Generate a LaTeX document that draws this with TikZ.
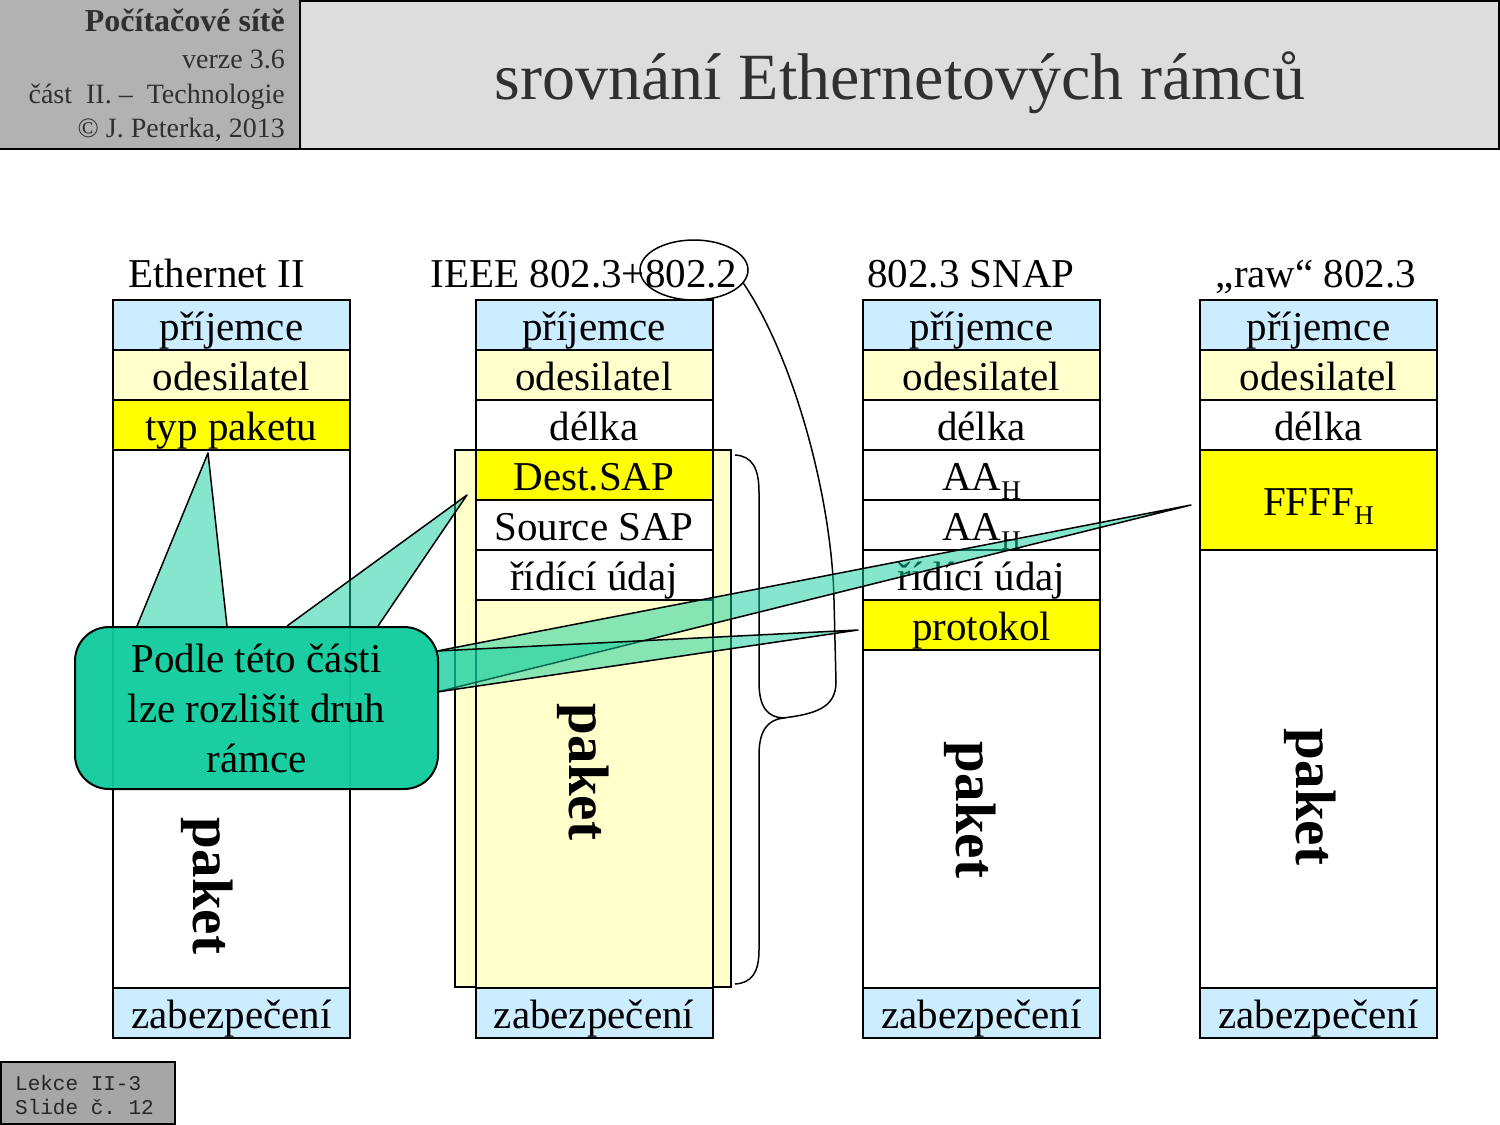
\documentclass[tikz,border=0pt]{standalone}
\usepackage{fontspec}
\setmainfont{Liberation Serif}
\newfontfamily\monofam{Liberation Mono}
\usetikzlibrary{shapes.geometric}
\definecolor{lblue}{HTML}{CCECFF}
\definecolor{lyellow}{HTML}{FFFFCC}
\definecolor{yel}{HTML}{FFFF00}
\definecolor{tealc}{HTML}{0ECC9C}
\definecolor{hdrdark}{HTML}{B2B2B2}
\definecolor{hdrlight}{HTML}{DDDDDD}
\definecolor{ftgray}{HTML}{A6A6A6}
\definecolor{txtgray}{HTML}{303030}
\newcommand\setfs[2]{\fontsize{#1}{#2}\selectfont}
\newcommand\subH{\raisebox{-9pt}{\setfs{27}{27}H}}
\frenchspacing
\begin{document}
\begin{tikzpicture}[x=1pt,y=-1pt,
  cell/.style={draw, line width=2pt, minimum width=237pt, minimum height=50pt,
    inner sep=0pt, outer sep=0pt, text height=36pt, text depth=6pt, font=\setfs{41}{48}},
  coltitle/.style={anchor=base, inner sep=0pt, font=\setfs{41}{48}},
  paketlbl/.style={rotate=-90, inner sep=0pt, font=\bfseries\setfs{57}{60}},
  hdrtxt/.style={anchor=base east, inner sep=0pt, text=txtgray, font=\setfs{28}{30}},
  foottxt/.style={anchor=base west, inner sep=0pt, text=black!85, font=\monofam\setfs{21}{22}},
  wedge/.style={draw=black, line width=1.5pt, fill=tealc, fill opacity=0.5, line join=round},
  thin/.style={line width=1.5pt}]
\useasboundingbox (0,0) rectangle (1500,1125);
\fill[white] (0,0) rectangle (1500,1125);

% header
\fill[hdrdark] (0,0) rectangle (300,150);
\draw[line width=2.5pt, fill=hdrlight] (300,1) rectangle (1499,149);
\draw[line width=2.5pt] (0,149) -- (300,149);
\node[hdrtxt, font=\bfseries\setfs{32}{34}] (h1) at (285,31) {Počítačové sítě};
\node[hdrtxt] (h2) at (285,68) {verze 3.6};
\node[hdrtxt] (h3) at (285,103) {část~~II.~–~~Technologie};
\node[hdrtxt] (h4) at (285,137) {© J. Peterka, 2013};
\node[anchor=base, inner sep=0pt, text=txtgray, font=\setfs{66}{70}] (title) at (900,99) {srovnání Ethernetových rámců};

% footer
\draw[line width=2pt, fill=ftgray] (1,1062) rectangle (175,1124);
\node[foottxt] (f1) at (15,1090) {Lekce II-3};
\node[foottxt] (f2) at (15,1114) {Slide č. 12};

% column titles
\node[coltitle] (t1) at (216.5,287) {Ethernet II};
\node[coltitle] (t2) at (584,287) {IEEE 802.3+802.2};
\node[coltitle] (t3) at (971,287) {802.3 SNAP};
\node[coltitle] (t4) at (1316,287) {„raw“ 802.3};

% column 1
\node[cell, fill=lblue] (a1) at (231.5,325) {příjemce};
\node[cell, fill=lyellow] (a2) at (231.5,375) {odesilatel};
\node[cell, fill=yel] (a3) at (231.5,425) {typ paketu};
\node[cell, fill=white, minimum height=538pt] (a4) at (231.5,719) {};
\node[cell, fill=lblue] (a5) at (231.5,1013) {zabezpečení};
\node[paketlbl] (p1) at (207,886) {paket};

% column 2
\node[draw, line width=2pt, fill=lyellow, minimum width=276pt, minimum height=537pt, inner sep=0pt] (llc) at (593,718.5) {};
\node[cell, fill=lblue] (b1) at (594,325) {příjemce};
\node[cell, fill=lyellow] (b2) at (594,375) {odesilatel};
\node[cell, fill=white] (b3) at (594,425) {délka};
\node[cell, fill=yel] (b4) at (594,475) {Dest.SAP};
\node[cell, fill=white] (b5) at (594,525) {Source SAP};
\node[cell, fill=white] (b6) at (594,575) {řídící údaj};
\node[cell, fill=lyellow, minimum height=388pt] (b7) at (594,794) {};
\node[cell, fill=lblue] (b8) at (594,1013) {zabezpečení};
\node[paketlbl] (p2) at (583,772) {paket};

% column 3
\node[cell, fill=lblue] (c1) at (981.5,325) {příjemce};
\node[cell, fill=lyellow] (c2) at (981.5,375) {odesilatel};
\node[cell, fill=white] (c3) at (981.5,425) {délka};
\node[cell, fill=white] (c4) at (981.5,475) {AA\subH};
\node[cell, fill=white] (c5) at (981.5,525) {AA\subH};
\node[cell, fill=white] (c6) at (981.5,575) {řídící údaj};
\node[cell, fill=yel] (c7) at (981.5,625) {protokol};
\node[cell, fill=white, minimum height=338pt] (c8) at (981.5,819) {};
\node[cell, fill=lblue] (c9) at (981.5,1013) {zabezpečení};
\node[paketlbl] (p3) at (970,810) {paket};

% column 4
\node[cell, fill=lblue] (d1) at (1318.5,325) {příjemce};
\node[cell, fill=lyellow] (d2) at (1318.5,375) {odesilatel};
\node[cell, fill=white] (d3) at (1318.5,425) {délka};
\node[cell, fill=yel, minimum height=100pt] (d4) at (1318.5,500) {FFFF\subH};
\node[cell, fill=white, minimum height=438pt] (d5) at (1318.5,769) {};
\node[cell, fill=lblue] (d6) at (1318.5,1013) {zabezpečení};
\node[paketlbl] (p4) at (1310,797) {paket};

% ellipse and brace
\node[ellipse, draw, thin, minimum width=108pt, minimum height=60pt, inner sep=0pt] (e802) at (694,270) {};
\coordinate (braceTip) at (783,718);
\draw[thin] (735,455) .. controls (752,456) and (759,468) .. (759,492) -- (759,682)
  .. controls (759,708) and (768,717) .. (braceTip)
  .. controls (768,720) and (759,730) .. (759,755) -- (759,950)
  .. controls (759,972) and (752,983) .. (735,984);
\draw[thin] (e802.-15) .. controls (795,360) and (832,500) .. (834,600) -- (836,682)
  .. controls (836,708) and (815,714) .. (braceTip);

% callout wedges
\draw[wedge] (137,626) -- (208,453) -- (227,626);
\draw[wedge] (287,626) -- (467,495) -- (378,626);
\draw[wedge] (437,651) -- (1191,505) -- (437,692);
\draw[wedge] (437,651) -- (858,630) -- (437,692);

% callout body
\node[draw, line width=2pt, fill=tealc, fill opacity=0.95, text opacity=1,
  rounded corners=34pt, minimum width=363pt, minimum height=162pt, inner sep=0pt,
  align=center, font=\setfs{41}{50}] (callout) at (256.5,708)
  {Podle této části\\lze rozlišit druh\\rámce};
\end{tikzpicture}
\end{document}
